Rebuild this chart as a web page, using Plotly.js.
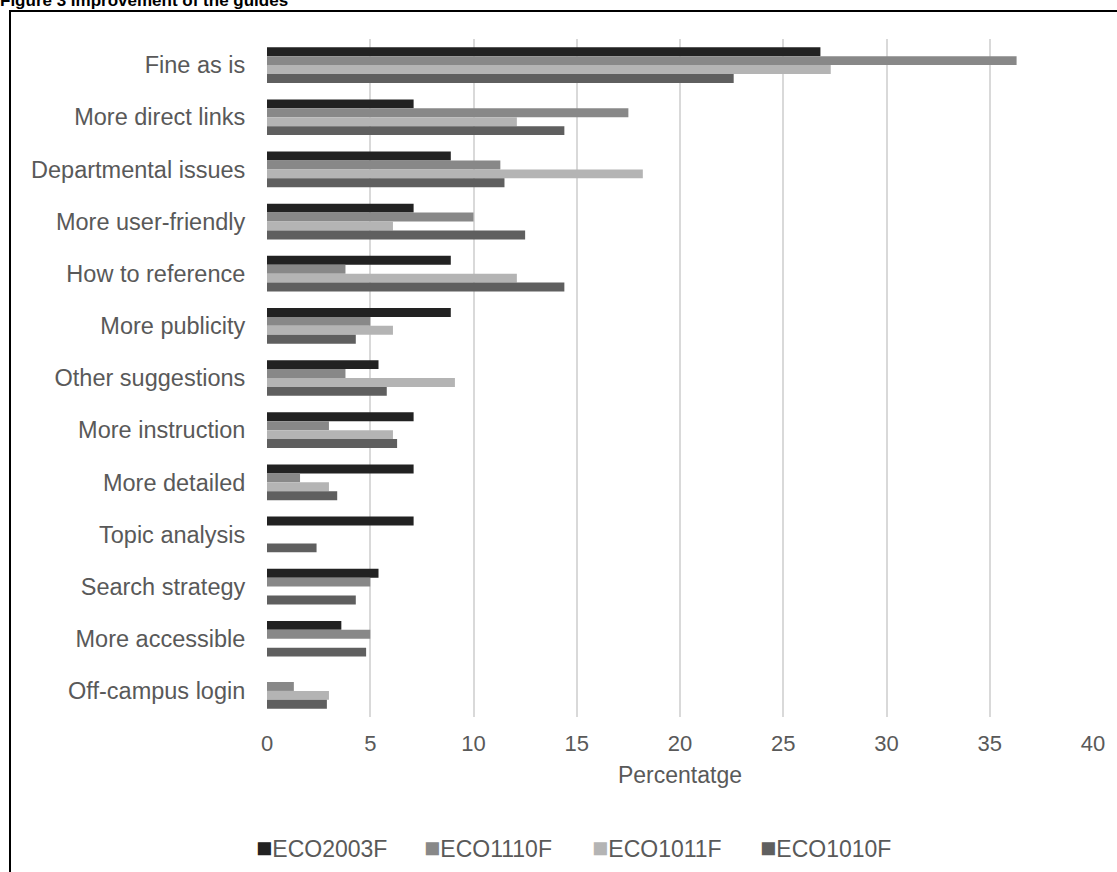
<!DOCTYPE html>
<html>
<head>
<meta charset="utf-8">
<script src="https://cdn.plot.ly/plotly-3.0.1.min.js"></script>
<style>
html,body{margin:0;padding:0;background:#fff;}
#chart{width:1117px;height:872px;}
</style>
</head>
<body>
<div id="chart"></div>
<script>
const categories = ["Fine as is","More direct links","Departmental issues","More user-friendly","How to reference","More publicity","Other suggestions","More instruction","More detailed","Topic analysis","Search strategy","More accessible","Off-campus login"];
const seriesNames = ["ECO2003F","ECO1110F","ECO1011F","ECO1010F"];
const eco2003F = [26.8, 7.1, 8.9, 7.1, 8.9, 8.9, 5.4, 7.1, 7.1, 7.1, 5.4, 3.6, 0];
const eco1110F = [36.3, 17.5, 11.3, 10.0, 3.8, 5.0, 3.8, 3.0, 1.6, 0, 5.0, 5.0, 1.3];
const eco1011F = [27.3, 12.1, 18.2, 6.1, 12.1, 6.1, 9.1, 6.1, 3.0, 0, 0, 0, 3.0];
const eco1010F = [22.6, 14.4, 11.5, 12.5, 14.4, 4.3, 5.8, 6.3, 3.4, 2.4, 4.3, 4.8, 2.9];
const xTicks = [0,5,10,15,20,25,30,35,40];

const colors = ["#222222","#888888","#b4b4b4","#5f5f5f"];
const values = [eco2003F, eco1110F, eco1011F, eco1010F];
const FONT = "Liberation Sans, Arial, sans-serif";
const TXT = "#595959";
const W = 1117, H = 872;
const M = {l:267, r:24, t:39, b:155};
const PW = W - M.l - M.r, PH = H - M.t - M.b;

const traces = seriesNames.map((n,i)=>({
  type:"bar", orientation:"h", name:n,
  x: values[i], y: categories,
  marker:{color:colors[i]},
  hoverinfo:"x+y+name"
}));

// legend drawn as annotations (square immediately followed by name, as in the reference)
const legendStart = 254, legendStep = 168, legendY = 848;
const legendAnnots = seriesNames.map((n,i)=>({
  xref:"paper", yref:"paper",
  x:(legendStart + legendStep*i - M.l)/PW, xanchor:"left",
  y:(H - M.b - legendY)/PH, yanchor:"middle",
  showarrow:false,
  text:`<span style="color:${colors[i]};font-size:27px">■</span>${n}`,
  font:{family:FONT, size:23, color:TXT}
}));

const layout = {
  width:W, height:H,
  paper_bgcolor:"#fff", plot_bgcolor:"#fff",
  margin:M,
  barmode:"group", bargap:0.316, bargroupgap:0,
  showlegend:false,
  font:{family:FONT, color:TXT, size:22},
  title:{text:"<b>Figure 3 Improvement of the guides</b>", font:{family:FONT, size:17, color:"#000"},
         xref:"container", x:0, xanchor:"left", yref:"container", y:1.0, yanchor:"middle", pad:{t:0,b:0,l:0,r:0}},
  xaxis:{range:[0,40], tickvals:xTicks, ticktext:xTicks.map(String),
         showgrid:true, gridcolor:"#d9d9d9", gridwidth:2,
         zeroline:false, showline:false,
         ticks:"outside", ticklen:7, tickcolor:"rgba(0,0,0,0)",
         tickfont:{family:FONT, size:22, color:TXT},
         title:{text:"Percentatge", font:{family:FONT, size:23, color:TXT}, standoff:11},
         fixedrange:true},
  yaxis:{type:"category", autorange:"reversed", showgrid:false, zeroline:false, showline:false,
         ticks:"outside", ticklen:16, tickcolor:"rgba(0,0,0,0)",
         tickfont:{family:FONT, size:23.5, color:TXT}, fixedrange:true},
  annotations: legendAnnots,
  shapes:[{type:"rect", xref:"paper", yref:"paper",
           x0:(10-M.l)/PW, x1:(1130-M.l)/PW, y0:(H-M.b-880)/PH, y1:(H-M.b-11)/PH,
           line:{color:"#000", width:2}, fillcolor:"rgba(0,0,0,0)", layer:"below"}]
};

Plotly.newPlot("chart", traces, layout, {displayModeBar:false});
</script>
</body>
</html>
